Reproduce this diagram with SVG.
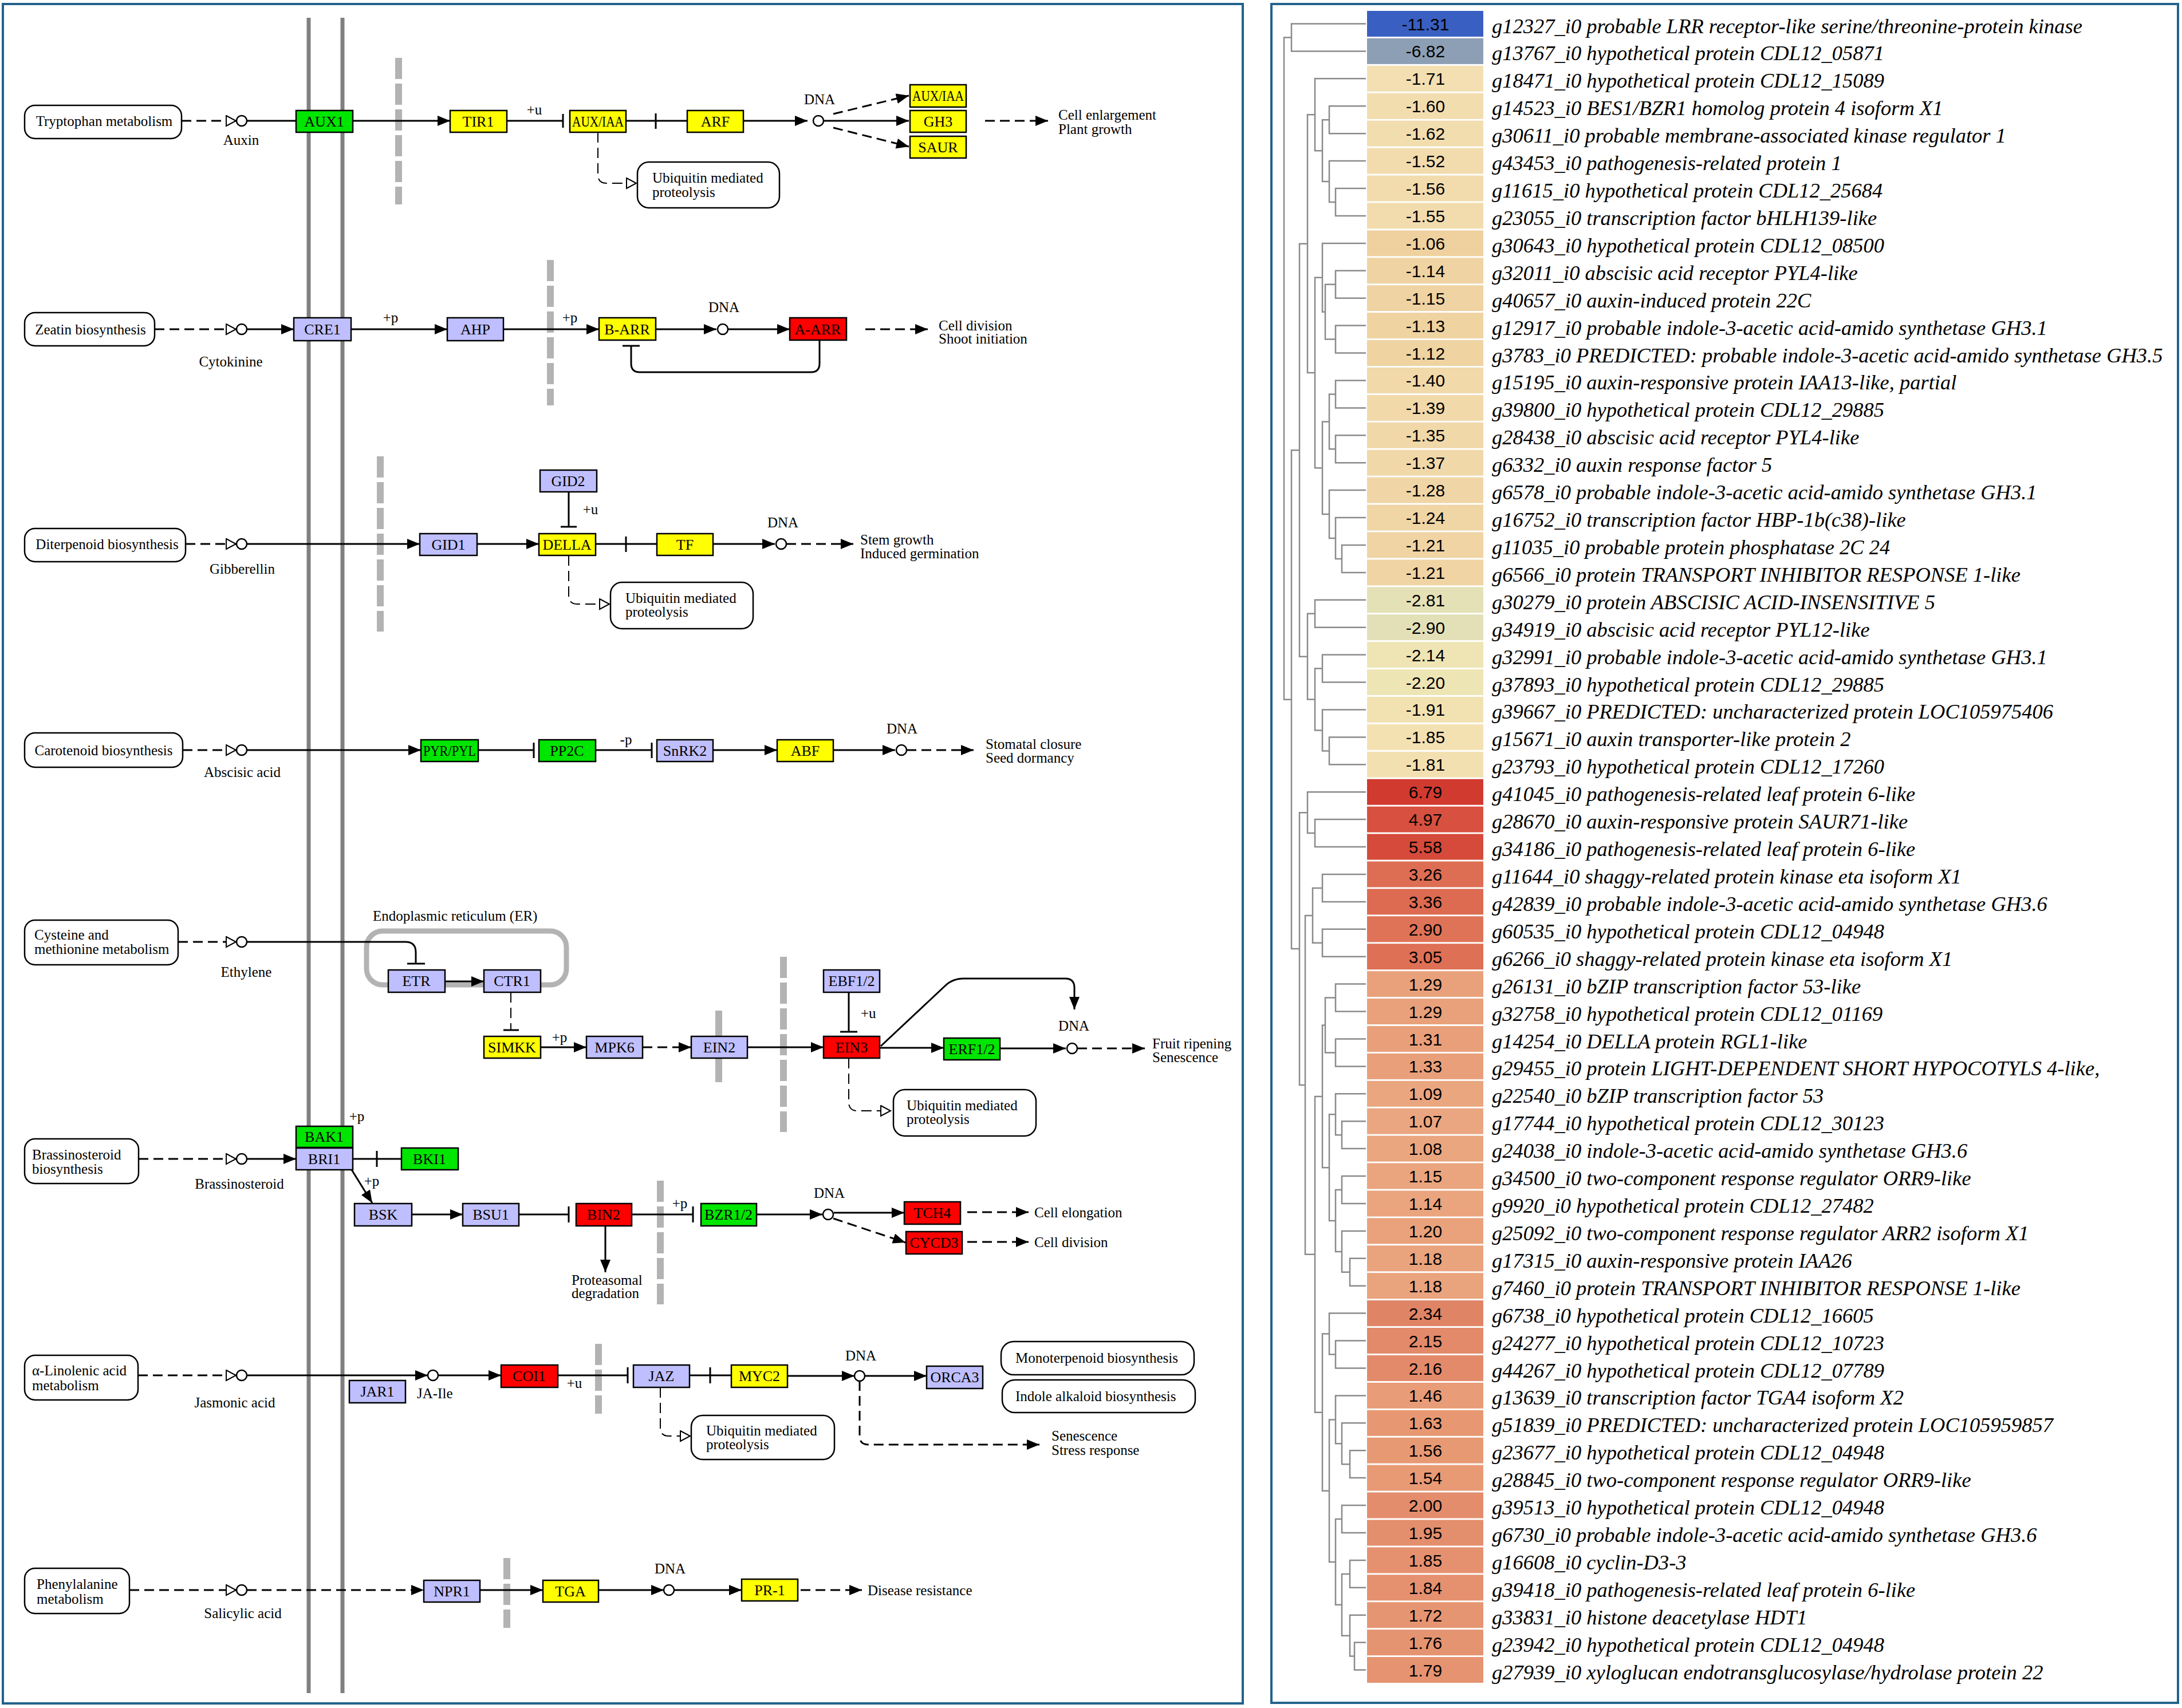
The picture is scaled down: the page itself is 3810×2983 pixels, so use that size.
<svg xmlns="http://www.w3.org/2000/svg" width="3810" height="2983" viewBox="0 0 3810 2983">
<style>
.t{font-family:"Liberation Serif",serif;font-size:25px;fill:#000}
.bt{font-family:"Liberation Serif",serif;font-size:26px;fill:#000;text-anchor:middle}
.m{text-anchor:middle}
.ln{stroke:#000;stroke-width:3;fill:none}
.dl{stroke:#000;stroke-width:3;fill:none;stroke-dasharray:17 9}
.ud{stroke:#000;stroke-width:2;fill:none;stroke-dasharray:18 9}
.box{stroke:#000;stroke-width:2.5}
.lav{fill:#bfbfff}.yel{fill:#ffff00}.red{fill:#ff0000}.grn{fill:#00e600}
.map{fill:#fff;stroke:#000;stroke-width:2.5}
.cpd{fill:#fff;stroke:#000;stroke-width:2.5}
.bar{stroke:#b3b3b3;stroke-width:12;stroke-dasharray:37 8;fill:none}
.mem{stroke:#808080;stroke-width:7}
.frame{fill:none;stroke:#22628c;stroke-width:4}
.dg{stroke:#8a8a8a;stroke-width:2.5;fill:none}
.cell{stroke:none}
.v{font-family:"Liberation Sans",Arial,sans-serif;font-size:30px;text-anchor:middle;fill:#000}
.g{font-family:"Liberation Serif",serif;font-style:italic;font-size:36.5px;fill:#000}
</style>
<defs>
<marker id="ah" markerUnits="userSpaceOnUse" markerWidth="24" markerHeight="20" refX="22" refY="9" orient="auto"><path d="M0,0 L22,9 L0,18 Z" fill="#000"/></marker>
<marker id="ot" markerUnits="userSpaceOnUse" markerWidth="22" markerHeight="22" refX="18" refY="10" orient="auto"><path d="M1,1 L18,10 L1,19 Z" fill="#fff" stroke="#000" stroke-width="2"/></marker>
</defs>
<rect x="0" y="0" width="3810" height="2983" fill="#fff"/>
<rect class="frame" x="5" y="7" width="2165" height="2968"/>
<rect class="frame" x="2220" y="7" width="1583" height="2967"/>

<g id="compartments">
<line class="mem" x1="539" y1="31" x2="539" y2="2957"/>
<line class="mem" x1="598" y1="31" x2="598" y2="2957"/>
<line class="bar" x1="696" y1="101" x2="696" y2="357"/>
<line class="bar" x1="961" y1="454" x2="961" y2="708"/>
<line class="bar" x1="664" y1="797" x2="664" y2="1103"/>
<line x1="1255" y1="1765" x2="1255" y2="1890" stroke="#b3b3b3" stroke-width="12"/>
<line class="bar" x1="1368" y1="1671" x2="1368" y2="1977"/>
<line class="bar" x1="1153" y1="2062" x2="1153" y2="2278"/>
<line class="bar" x1="1045" y1="2347" x2="1045" y2="2469"/>
<line class="bar" x1="885" y1="2721" x2="885" y2="2843"/>
<rect x="640" y="1626" width="349" height="94" rx="28" fill="none" stroke="#b3b3b3" stroke-width="9"/>
<text class="t" x="651" y="1608">Endoplasmic reticulum (ER)</text>
</g>

<g id="connectors">
<path class="dl" d="M317,211 L412,211" marker-end="url(#ot)"/>
<path class="ln" d="M431,211 L786,211" marker-end="url(#ah)"/>
<path class="ln" d="M885,211 L983,211 M983,199 L983,223"/>
<path class="ln" d="M1093,211 L1200,211 M1145,198 L1145,225"/>
<path class="ln" d="M1298,211 L1410,211" marker-end="url(#ah)"/>
<path class="dl" d="M1455,199 L1587,167" marker-end="url(#ah)"/>
<path class="ln" d="M1438,211 L1587,211" marker-end="url(#ah)"/>
<path class="dl" d="M1455,223 L1587,256" marker-end="url(#ah)"/>
<path class="dl" d="M1720,211 L1830,211" marker-end="url(#ah)"/>
<path class="ud" d="M1044,231 L1044,305 Q1044,320 1059,320 L1111,320" marker-end="url(#ot)"/>
<path class="dl" d="M270,575 L412,575" marker-end="url(#ot)"/>
<path class="ln" d="M431,575 L513,575" marker-end="url(#ah)"/>
<path class="ln" d="M613,575 L781,575" marker-end="url(#ah)"/>
<path class="ln" d="M879,575 L1046,575" marker-end="url(#ah)"/>
<path class="ln" d="M1145,575 L1251,575" marker-end="url(#ah)"/>
<path class="ln" d="M1271,575 L1379,575" marker-end="url(#ah)"/>
<path class="ln" d="M1431,594 L1431,635 Q1431,650 1416,650 L1117,650 Q1102,650 1102,635 L1102,604 M1087,604 L1117,604"/>
<path class="dl" d="M1511,575 L1620,575" marker-end="url(#ah)"/>
<path class="dl" d="M324,950 L412,950" marker-end="url(#ot)"/>
<path class="ln" d="M431,950 L733,950" marker-end="url(#ah)"/>
<path class="ln" d="M833,950 L941,950" marker-end="url(#ah)"/>
<path class="ln" d="M993,859 L993,920 M979,920 L1007,920"/>
<path class="ln" d="M1040,950 L1147,950 M1093,937 L1093,964"/>
<path class="ln" d="M1245,950 L1353,950" marker-end="url(#ah)"/>
<path class="dl" d="M1373,950 L1490,950" marker-end="url(#ah)"/>
<path class="ud" d="M993,970 L993,1040 Q993,1055 1008,1055 L1064,1055" marker-end="url(#ot)"/>
<path class="dl" d="M319,1310 L412,1310" marker-end="url(#ot)"/>
<path class="ln" d="M431,1310 L735,1310" marker-end="url(#ah)"/>
<path class="ln" d="M835,1310 L932,1310 M932,1297 L932,1324"/>
<path class="ln" d="M1040,1310 L1138,1310 M1138,1297 L1138,1324"/>
<path class="ln" d="M1245,1310 L1357,1310" marker-end="url(#ah)"/>
<path class="ln" d="M1455,1310 L1563,1310" marker-end="url(#ah)"/>
<path class="dl" d="M1583,1310 L1700,1310" marker-end="url(#ah)"/>
<path class="dl" d="M311,1645 L412,1645" marker-end="url(#ot)"/>
<path class="ln" d="M431,1645 L708,1645 Q726,1645 726,1663 L726,1683 M711,1683 L742,1683"/>
<path class="ln" d="M777,1714 L845,1714" marker-end="url(#ah)"/>
<path class="ud" d="M892,1733 L892,1799"/>
<path class="ln" d="M879,1799 L906,1799"/>
<path class="ln" d="M944,1829 L1024,1829" marker-end="url(#ah)"/>
<path class="dl" d="M1122,1829 L1207,1829" marker-end="url(#ah)"/>
<path class="ln" d="M1305,1829 L1438,1829" marker-end="url(#ah)"/>
<path class="ln" d="M1482,1733 L1482,1802 M1467,1802 L1497,1802"/>
<path class="ln" d="M1536,1830 L1648,1830" marker-end="url(#ah)"/>
<path class="ln" d="M1746,1831 L1861,1831" marker-end="url(#ah)"/>
<path class="ln" stroke-width="2.5" d="M1538,1827 L1650,1722 Q1663,1709 1683,1709 L1860,1709 Q1876,1709 1876,1725 L1876,1763" marker-end="url(#ah)"/>
<path class="dl" d="M1881,1831 L1999,1831" marker-end="url(#ah)"/>
<path class="ud" d="M1482,1848 L1482,1925 Q1482,1940 1497,1940 L1555,1940" marker-end="url(#ot)"/>
<path class="dl" d="M242,2024 L412,2024" marker-end="url(#ot)"/>
<path class="ln" d="M431,2024 L517,2024" marker-end="url(#ah)"/>
<path class="ln" d="M616,2024 L701,2024 M658,2010 L658,2038"/>
<path class="ln" stroke-width="2.5" d="M614,2043 L650,2101" marker-end="url(#ah)"/>
<path class="ln" d="M719,2121 L808,2121" marker-end="url(#ah)"/>
<path class="ln" d="M906,2121 L993,2121 M993,2107 L993,2135"/>
<path class="ln" d="M1057,2141 L1057,2222" marker-end="url(#ah)"/>
<path class="ln" d="M1103,2121 L1210,2121 M1210,2107 L1210,2135"/>
<path class="ln" d="M1321,2121 L1436,2121" marker-end="url(#ah)"/>
<path class="ln" d="M1456,2118 L1579,2118" marker-end="url(#ah)"/>
<path class="dl" d="M1455,2128 L1581,2170" marker-end="url(#ah)"/>
<path class="dl" d="M1689,2117 L1796,2117" marker-end="url(#ah)"/>
<path class="dl" d="M1689,2169 L1796,2169" marker-end="url(#ah)"/>
<path class="dl" d="M241,2402 L412,2402" marker-end="url(#ot)"/>
<path class="ln" d="M431,2402 L747,2402" marker-end="url(#ah)"/>
<path class="ln" d="M765,2402 L875,2402" marker-end="url(#ah)"/>
<path class="ln" d="M974,2402 L1096,2402 M1096,2388 L1096,2416"/>
<path class="ln" d="M1204,2402 L1277,2402 M1240,2388 L1240,2416"/>
<path class="ln" d="M1375,2403 L1492,2403" marker-end="url(#ah)"/>
<path class="ln" d="M1510,2403 L1618,2403" marker-end="url(#ah)"/>
<path class="dl" d="M1501,2412 L1501,2508 Q1501,2523 1516,2523 L1815,2523" marker-end="url(#ah)"/>
<path class="ud" d="M1153,2423 L1153,2494 Q1153,2508 1168,2508 L1205,2508" marker-end="url(#ot)"/>
<path class="dl" d="M226,2777 L412,2777" marker-end="url(#ot)"/>
<path class="dl" d="M431,2777 L740,2777" marker-end="url(#ah)"/>
<path class="ln" d="M838,2777 L948,2777" marker-end="url(#ah)"/>
<path class="ln" d="M1045,2777 L1159,2777" marker-end="url(#ah)"/>
<path class="ln" d="M1177,2777 L1295,2777" marker-end="url(#ah)"/>
<path class="dl" d="M1398,2777 L1505,2777" marker-end="url(#ah)"/>
</g>

<g id="map-trp"><rect class="map" x="43" y="184" width="274" height="58" rx="18"/><text class="t m" x="182" y="220">Tryptophan metabolism</text></g>
<g id="map-zeatin"><rect class="map" x="43" y="546" width="227" height="58" rx="18"/><text class="t m" x="158" y="584">Zeatin biosynthesis</text></g>
<g id="map-diterp"><rect class="map" x="43" y="923" width="281" height="58" rx="18"/><text class="t m" x="187" y="959">Diterpenoid biosynthesis</text></g>
<g id="map-carot"><rect class="map" x="43" y="1280" width="276" height="60" rx="18"/><text class="t m" x="181" y="1319">Carotenoid biosynthesis</text></g>
<g id="map-cys"><rect class="map" x="43" y="1607" width="268" height="78" rx="18"/><text class="t" x="60" y="1641">Cysteine and</text><text class="t" x="60" y="1666">methionine metabolism</text></g>
<g id="map-brass"><rect class="map" x="43" y="1989" width="199" height="78" rx="18"/><text class="t" x="56" y="2025">Brassinosteroid</text><text class="t" x="56" y="2050">biosynthesis</text></g>
<g id="map-linol"><rect class="map" x="43" y="2367" width="198" height="78" rx="18"/><text class="t" x="56" y="2402">α-Linolenic acid</text><text class="t" x="56" y="2428">metabolism</text></g>
<g id="map-phe"><rect class="map" x="43" y="2739" width="183" height="79" rx="18"/><text class="t" x="64" y="2775">Phenylalanine</text><text class="t" x="64" y="2801">metabolism</text></g>
<g id="map-ubq1"><rect class="map" x="1113" y="283" width="248" height="80" rx="20"/><text class="t" x="1139" y="319">Ubiquitin mediated</text><text class="t" x="1139" y="344">proteolysis</text></g>
<g id="map-ubq2"><rect class="map" x="1066" y="1017" width="249" height="81" rx="20"/><text class="t" x="1092" y="1053">Ubiquitin mediated</text><text class="t" x="1092" y="1077">proteolysis</text></g>
<g id="map-ubq3"><rect class="map" x="1560" y="1903" width="249" height="81" rx="20"/><text class="t" x="1583" y="1939">Ubiquitin mediated</text><text class="t" x="1583" y="1963">proteolysis</text></g>
<g id="map-ubq4"><rect class="map" x="1207" y="2472" width="250" height="77" rx="20"/><text class="t" x="1233" y="2507">Ubiquitin mediated</text><text class="t" x="1233" y="2531">proteolysis</text></g>
<g id="map-monoterp"><rect class="map" x="1748" y="2343" width="337" height="58" rx="22"/><text class="t" x="1773" y="2380">Monoterpenoid biosynthesis</text></g>
<g id="map-indole"><rect class="map" x="1750" y="2410" width="337" height="57" rx="22"/><text class="t" x="1773" y="2447">Indole alkaloid biosynthesis</text></g>

<g id="cpd-auxin"><circle class="cpd" cx="422" cy="211" r="9"/><text class="t m" x="421" y="253">Auxin</text></g>
<g id="cpd-cytokinin"><circle class="cpd" cx="422" cy="575" r="9"/><text class="t m" x="403" y="640">Cytokinine</text></g>
<g id="cpd-ga"><circle class="cpd" cx="422" cy="950" r="9"/><text class="t m" x="423" y="1002">Gibberellin</text></g>
<g id="cpd-aba"><circle class="cpd" cx="422" cy="1310" r="9"/><text class="t m" x="423" y="1357">Abscisic acid</text></g>
<g id="cpd-eth"><circle class="cpd" cx="422" cy="1645" r="9"/><text class="t m" x="430" y="1706">Ethylene</text></g>
<g id="cpd-br"><circle class="cpd" cx="422" cy="2024" r="9"/><text class="t m" x="418" y="2076">Brassinosteroid</text></g>
<g id="cpd-ja"><circle class="cpd" cx="422" cy="2402" r="9"/><text class="t m" x="410" y="2458">Jasmonic acid</text></g>
<g id="cpd-jaile"><circle class="cpd" cx="756" cy="2402" r="9"/><text class="t" x="728" y="2442">JA-Ile</text></g>
<g id="cpd-sa"><circle class="cpd" cx="422" cy="2777" r="9"/><text class="t m" x="424" y="2826">Salicylic acid</text></g>
<g id="dna1"><circle class="cpd" cx="1429" cy="211" r="9"/><text class="t m" x="1431" y="182">DNA</text></g>
<g id="dna2"><circle class="cpd" cx="1262" cy="575" r="9"/><text class="t m" x="1264" y="545">DNA</text></g>
<g id="dna3"><circle class="cpd" cx="1364" cy="950" r="9"/><text class="t m" x="1367" y="921">DNA</text></g>
<g id="dna4"><circle class="cpd" cx="1574" cy="1310" r="9"/><text class="t m" x="1575" y="1281">DNA</text></g>
<g id="dna5"><circle class="cpd" cx="1872" cy="1831" r="9"/><text class="t m" x="1875" y="1800">DNA</text></g>
<g id="dna6"><circle class="cpd" cx="1446" cy="2121" r="9"/><text class="t m" x="1448" y="2092">DNA</text></g>
<g id="dna7"><circle class="cpd" cx="1501" cy="2403" r="9"/><text class="t m" x="1503" y="2376">DNA</text></g>
<g id="dna8"><circle class="cpd" cx="1168" cy="2777" r="9"/><text class="t m" x="1170" y="2748">DNA</text></g>

<g id="n-aux1"><rect class="box grn" x="517" y="193" width="99" height="38"/><text class="bt" x="566" y="221">AUX1</text></g>
<g id="n-tir1"><rect class="box yel" x="786" y="193" width="99" height="38"/><text class="bt" x="835" y="221">TIR1</text></g>
<g id="n-auxiaa"><rect class="box yel" x="995" y="193" width="98" height="38"/><text class="bt" x="1044" y="221" textLength="90" lengthAdjust="spacingAndGlyphs">AUX/IAA</text></g>
<g id="n-arf"><rect class="box yel" x="1200" y="193" width="98" height="38"/><text class="bt" x="1249" y="221">ARF</text></g>
<g id="n-auxiaa2"><rect class="box yel" x="1589" y="148" width="98" height="39"/><text class="bt" x="1638" y="176" textLength="90" lengthAdjust="spacingAndGlyphs">AUX/IAA</text></g>
<g id="n-gh3"><rect class="box yel" x="1589" y="193" width="98" height="38"/><text class="bt" x="1638" y="221">GH3</text></g>
<g id="n-saur"><rect class="box yel" x="1589" y="238" width="98" height="38"/><text class="bt" x="1638" y="266">SAUR</text></g>
<g id="n-cre1"><rect class="box lav" x="513" y="555" width="100" height="40"/><text class="bt" x="563" y="584">CRE1</text></g>
<g id="n-ahp"><rect class="box lav" x="781" y="555" width="98" height="40"/><text class="bt" x="830" y="584">AHP</text></g>
<g id="n-barr"><rect class="box yel" x="1046" y="555" width="99" height="39"/><text class="bt" x="1095" y="584">B-ARR</text></g>
<g id="n-aarr"><rect class="box red" x="1379" y="555" width="99" height="39"/><text class="bt" x="1428" y="584">A-ARR</text></g>
<g id="n-gid1"><rect class="box lav" x="733" y="932" width="100" height="38"/><text class="bt" x="783" y="960">GID1</text></g>
<g id="n-gid2"><rect class="box lav" x="943" y="821" width="99" height="38"/><text class="bt" x="992" y="849">GID2</text></g>
<g id="n-della"><rect class="box yel" x="941" y="932" width="99" height="38"/><text class="bt" x="990" y="960">DELLA</text></g>
<g id="n-tf"><rect class="box yel" x="1147" y="932" width="98" height="38"/><text class="bt" x="1196" y="960">TF</text></g>
<g id="n-pyr"><rect class="box grn" x="735" y="1292" width="100" height="38"/><text class="bt" x="785" y="1320" textLength="92" lengthAdjust="spacingAndGlyphs">PYR/PYL</text></g>
<g id="n-pp2c"><rect class="box grn" x="941" y="1292" width="99" height="38"/><text class="bt" x="990" y="1320">PP2C</text></g>
<g id="n-snrk2"><rect class="box lav" x="1147" y="1292" width="98" height="38"/><text class="bt" x="1196" y="1320">SnRK2</text></g>
<g id="n-abf"><rect class="box yel" x="1357" y="1292" width="98" height="38"/><text class="bt" x="1406" y="1320">ABF</text></g>
<g id="n-etr"><rect class="box lav" x="678" y="1694" width="99" height="39"/><text class="bt" x="727" y="1722">ETR</text></g>
<g id="n-ctr1"><rect class="box lav" x="845" y="1694" width="99" height="39"/><text class="bt" x="894" y="1722">CTR1</text></g>
<g id="n-simkk"><rect class="box yel" x="845" y="1810" width="99" height="38"/><text class="bt" x="894" y="1838">SIMKK</text></g>
<g id="n-mpk6"><rect class="box lav" x="1024" y="1810" width="98" height="38"/><text class="bt" x="1073" y="1838">MPK6</text></g>
<g id="n-ein2"><rect class="box lav" x="1207" y="1810" width="98" height="38"/><text class="bt" x="1256" y="1838">EIN2</text></g>
<g id="n-ein3"><rect class="box red" x="1438" y="1810" width="98" height="38"/><text class="bt" x="1487" y="1838">EIN3</text></g>
<g id="n-ebf"><rect class="box lav" x="1438" y="1694" width="98" height="39"/><text class="bt" x="1487" y="1722">EBF1/2</text></g>
<g id="n-erf"><rect class="box grn" x="1648" y="1813" width="98" height="38"/><text class="bt" x="1697" y="1841">ERF1/2</text></g>
<g id="n-bak1"><rect class="box grn" x="517" y="1967" width="99" height="37"/><text class="bt" x="566" y="1994">BAK1</text></g>
<g id="n-bri1"><rect class="box lav" x="517" y="2005" width="99" height="38"/><text class="bt" x="566" y="2033">BRI1</text></g>
<g id="n-bki1"><rect class="box grn" x="701" y="2005" width="99" height="38"/><text class="bt" x="750" y="2033">BKI1</text></g>
<g id="n-bsk"><rect class="box lav" x="619" y="2102" width="100" height="39"/><text class="bt" x="669" y="2130">BSK</text></g>
<g id="n-bsu1"><rect class="box lav" x="808" y="2102" width="98" height="39"/><text class="bt" x="857" y="2130">BSU1</text></g>
<g id="n-bin2"><rect class="box red" x="1006" y="2102" width="97" height="39"/><text class="bt" x="1054" y="2130">BIN2</text></g>
<g id="n-bzr"><rect class="box grn" x="1224" y="2102" width="97" height="39"/><text class="bt" x="1272" y="2130">BZR1/2</text></g>
<g id="n-tch4"><rect class="box red" x="1579" y="2099" width="98" height="39"/><text class="bt" x="1628" y="2127">TCH4</text></g>
<g id="n-cycd3"><rect class="box red" x="1582" y="2151" width="98" height="39"/><text class="bt" x="1631" y="2179">CYCD3</text></g>
<g id="n-jar1"><rect class="box lav" x="610" y="2411" width="98" height="39"/><text class="bt" x="659" y="2439">JAR1</text></g>
<g id="n-coi1"><rect class="box red" x="875" y="2384" width="99" height="39"/><text class="bt" x="924" y="2412">COI1</text></g>
<g id="n-jaz"><rect class="box lav" x="1106" y="2384" width="98" height="39"/><text class="bt" x="1155" y="2412">JAZ</text></g>
<g id="n-myc2"><rect class="box yel" x="1277" y="2384" width="98" height="39"/><text class="bt" x="1326" y="2412">MYC2</text></g>
<g id="n-orca3"><rect class="box lav" x="1618" y="2386" width="98" height="39"/><text class="bt" x="1667" y="2414">ORCA3</text></g>
<g id="n-npr1"><rect class="box lav" x="740" y="2760" width="98" height="38"/><text class="bt" x="789" y="2788">NPR1</text></g>
<g id="n-tga"><rect class="box yel" x="948" y="2760" width="97" height="38"/><text class="bt" x="996" y="2788">TGA</text></g>
<g id="n-pr1"><rect class="box yel" x="1295" y="2758" width="98" height="38"/><text class="bt" x="1344" y="2786">PR-1</text></g>

<g id="labels">
<text class="t m" x="933" y="200">+u</text>
<text class="t m" x="682" y="563">+p</text>
<text class="t m" x="995" y="563">+p</text>
<text class="t m" x="1031" y="898">+u</text>
<text class="t m" x="1093" y="1300">-p</text>
<text class="t m" x="977" y="1820">+p</text>
<text class="t" x="1503" y="1778">+u</text>
<text class="t m" x="623" y="1958">+p</text>
<text class="t m" x="649" y="2071">+p</text>
<text class="t m" x="1187" y="2110">+p</text>
<text class="t m" x="1003" y="2424">+u</text>
<text class="t" x="1848" y="209">Cell enlargement</text>
<text class="t" x="1848" y="234">Plant growth</text>
<text class="t" x="1639" y="577">Cell division</text>
<text class="t" x="1639" y="600">Shoot initiation</text>
<text class="t" x="1502" y="951">Stem growth</text>
<text class="t" x="1502" y="975">Induced germination</text>
<text class="t" x="1721" y="1308">Stomatal closure</text>
<text class="t" x="1721" y="1332">Seed dormancy</text>
<text class="t" x="2012" y="1831">Fruit ripening</text>
<text class="t" x="2012" y="1855">Senescence</text>
<text class="t" x="998" y="2244">Proteasomal</text>
<text class="t" x="998" y="2267">degradation</text>
<text class="t" x="1806" y="2126">Cell elongation</text>
<text class="t" x="1806" y="2178">Cell division</text>
<text class="t" x="1836" y="2516">Senescence</text>
<text class="t" x="1836" y="2541">Stress response</text>
<text class="t" x="1515" y="2786">Disease resistance</text>
</g>

<g id="dendrogram" class="dg">
<path d="M2385,41.5 H2255 V89.4 H2385"/>
<path d="M2385,185.3 H2321 V233.2 H2385"/>
<path d="M2385,329 H2332 V376.9 H2385"/>
<path d="M2385,281.1 H2321 V353 H2332"/>
<path d="M2321,209.3 H2309 V317 H2321"/>
<path d="M2385,137.3 H2296 V263.2 H2309"/>
<path d="M2385,472.8 H2332 V520.7 H2385"/>
<path d="M2385,568.6 H2332 V616.5 H2385"/>
<path d="M2332,496.8 H2314 V592.6 H2332"/>
<path d="M2385,424.9 H2309 V544.7 H2314"/>
<path d="M2385,664.4 H2332 V712.4 H2385"/>
<path d="M2385,760.3 H2332 V808.2 H2385"/>
<path d="M2332,688.4 H2321 V784.3 H2332"/>
<path d="M2385,951.9 H2343 V999.9 H2385"/>
<path d="M2385,904 H2332 V975.9 H2343"/>
<path d="M2385,856.1 H2321 V940 H2332"/>
<path d="M2321,736.4 H2309 V898.1 H2321"/>
<path d="M2309,484.8 H2296 V817.3 H2309"/>
<path d="M2296,200.2 H2283 V651.1 H2296"/>
<path d="M2385,1047.8 H2296 V1095.7 H2385"/>
<path d="M2385,1143.6 H2309 V1191.5 H2385"/>
<path d="M2385,1287.4 H2321 V1335.3 H2385"/>
<path d="M2385,1239.4 H2309 V1311.4 H2321"/>
<path d="M2309,1167.6 H2296 V1275.4 H2309"/>
<path d="M2296,1071.8 H2283 V1221.5 H2296"/>
<path d="M2283,425.7 H2269 V1146.7 H2283"/>
<path d="M2385,1431.1 H2296 V1479 H2385"/>
<path d="M2385,1383.2 H2283 V1455.1 H2296"/>
<path d="M2385,1527 H2309 V1574.9 H2385"/>
<path d="M2385,1622.8 H2309 V1670.7 H2385"/>
<path d="M2309,1551 H2292 V1646.8 H2309"/>
<path d="M2385,1718.6 H2332 V1766.5 H2385"/>
<path d="M2385,1814.5 H2332 V1862.4 H2385"/>
<path d="M2332,1742.6 H2314 V1838.5 H2332"/>
<path d="M2385,1958.2 H2343 V2006.1 H2385"/>
<path d="M2385,1910.3 H2332 V1982.2 H2343"/>
<path d="M2385,2054 H2343 V2102 H2385"/>
<path d="M2385,2197.8 H2357 V2245.7 H2385"/>
<path d="M2385,2149.9 H2343 V2221.8 H2357"/>
<path d="M2343,2078 H2332 V2185.9 H2343"/>
<path d="M2332,1946.3 H2321 V2132 H2332"/>
<path d="M2314,1790.6 H2309 V2039.2 H2321"/>
<path d="M2385,2341.5 H2332 V2389.5 H2385"/>
<path d="M2385,2293.6 H2321 V2365.5 H2332"/>
<path d="M2385,2533.2 H2357 V2581.1 H2385"/>
<path d="M2385,2485.3 H2343 V2557.2 H2357"/>
<path d="M2385,2437.4 H2332 V2521.3 H2343"/>
<path d="M2385,2629 H2343 V2677 H2385"/>
<path d="M2385,2724.9 H2357 V2772.8 H2385"/>
<path d="M2385,2868.6 H2365 V2916.5 H2385"/>
<path d="M2385,2820.7 H2357 V2892.6 H2365"/>
<path d="M2357,2748.9 H2343 V2856.7 H2357"/>
<path d="M2343,2653 H2332 V2802.8 H2343"/>
<path d="M2332,2479.4 H2321 V2727.9 H2332"/>
<path d="M2321,2329.6 H2309 V2603.7 H2321"/>
<path d="M2309,1914.9 H2296 V2466.7 H2309"/>
<path d="M2292,1598.9 H2279 V2190.8 H2296"/>
<path d="M2283,1419.2 H2269 V1894.9 H2279"/>
<path d="M2269,786.2 H2255 V1657.1 H2269"/>
<path d="M2255,65.5 H2242 V1221.7 H2255"/>
</g>

<g id="heatmap">
<g id="r1" transform="translate(0,19)"><rect class="cell" x="2387" y="0" width="203" height="45" fill="#3a5fc2"/><text class="v" x="2489" y="33.5">-11.31</text><text class="g" x="2605" y="38.5">g12327_i0 probable LRR receptor-like serine/threonine-protein kinase</text></g>
<g id="r2" transform="translate(0,66.9)"><rect class="cell" x="2387" y="0" width="203" height="45" fill="#8d9fb4"/><text class="v" x="2489" y="33.5">-6.82</text><text class="g" x="2605" y="38.5">g13767_i0 hypothetical protein CDL12_05871</text></g>
<g id="r3" transform="translate(0,114.8)"><rect class="cell" x="2387" y="0" width="203" height="45" fill="#f3dfb1"/><text class="v" x="2489" y="33.5">-1.71</text><text class="g" x="2605" y="38.5">g18471_i0 hypothetical protein CDL12_15089</text></g>
<g id="r4" transform="translate(0,162.8)"><rect class="cell" x="2387" y="0" width="203" height="45" fill="#f2ddaf"/><text class="v" x="2489" y="33.5">-1.60</text><text class="g" x="2605" y="38.5">g14523_i0 BES1/BZR1 homolog protein 4 isoform X1</text></g>
<g id="r5" transform="translate(0,210.7)"><rect class="cell" x="2387" y="0" width="203" height="45" fill="#f2ddaf"/><text class="v" x="2489" y="33.5">-1.62</text><text class="g" x="2605" y="38.5">g30611_i0 probable membrane-associated kinase regulator 1</text></g>
<g id="r6" transform="translate(0,258.6)"><rect class="cell" x="2387" y="0" width="203" height="45" fill="#f2dcad"/><text class="v" x="2489" y="33.5">-1.52</text><text class="g" x="2605" y="38.5">g43453_i0 pathogenesis-related protein 1</text></g>
<g id="r7" transform="translate(0,306.5)"><rect class="cell" x="2387" y="0" width="203" height="45" fill="#f2dcae"/><text class="v" x="2489" y="33.5">-1.56</text><text class="g" x="2605" y="38.5">g11615_i0 hypothetical protein CDL12_25684</text></g>
<g id="r8" transform="translate(0,354.4)"><rect class="cell" x="2387" y="0" width="203" height="45" fill="#f2dcae"/><text class="v" x="2489" y="33.5">-1.55</text><text class="g" x="2605" y="38.5">g23055_i0 transcription factor bHLH139-like</text></g>
<g id="r9" transform="translate(0,402.4)"><rect class="cell" x="2387" y="0" width="203" height="45" fill="#efd19f"/><text class="v" x="2489" y="33.5">-1.06</text><text class="g" x="2605" y="38.5">g30643_i0 hypothetical protein CDL12_08500</text></g>
<g id="r10" transform="translate(0,450.3)"><rect class="cell" x="2387" y="0" width="203" height="45" fill="#efd3a2"/><text class="v" x="2489" y="33.5">-1.14</text><text class="g" x="2605" y="38.5">g32011_i0 abscisic acid receptor PYL4-like</text></g>
<g id="r11" transform="translate(0,498.2)"><rect class="cell" x="2387" y="0" width="203" height="45" fill="#efd3a2"/><text class="v" x="2489" y="33.5">-1.15</text><text class="g" x="2605" y="38.5">g40657_i0 auxin-induced protein 22C</text></g>
<g id="r12" transform="translate(0,546.1)"><rect class="cell" x="2387" y="0" width="203" height="45" fill="#efd3a1"/><text class="v" x="2489" y="33.5">-1.13</text><text class="g" x="2605" y="38.5">g12917_i0 probable indole-3-acetic acid-amido synthetase GH3.1</text></g>
<g id="r13" transform="translate(0,594)"><rect class="cell" x="2387" y="0" width="203" height="45" fill="#efd3a1"/><text class="v" x="2489" y="33.5">-1.12</text><text class="g" x="2605" y="38.5">g3783_i0 PREDICTED: probable indole-3-acetic acid-amido synthetase GH3.5</text></g>
<g id="r14" transform="translate(0,641.9)"><rect class="cell" x="2387" y="0" width="203" height="45" fill="#f1d9aa"/><text class="v" x="2489" y="33.5">-1.40</text><text class="g" x="2605" y="38.5">g15195_i0 auxin-responsive protein IAA13-like, partial</text></g>
<g id="r15" transform="translate(0,689.9)"><rect class="cell" x="2387" y="0" width="203" height="45" fill="#f1d9aa"/><text class="v" x="2489" y="33.5">-1.39</text><text class="g" x="2605" y="38.5">g39800_i0 hypothetical protein CDL12_29885</text></g>
<g id="r16" transform="translate(0,737.8)"><rect class="cell" x="2387" y="0" width="203" height="45" fill="#f1d8a9"/><text class="v" x="2489" y="33.5">-1.35</text><text class="g" x="2605" y="38.5">g28438_i0 abscisic acid receptor PYL4-like</text></g>
<g id="r17" transform="translate(0,785.7)"><rect class="cell" x="2387" y="0" width="203" height="45" fill="#f1d8a9"/><text class="v" x="2489" y="33.5">-1.37</text><text class="g" x="2605" y="38.5">g6332_i0 auxin response factor 5</text></g>
<g id="r18" transform="translate(0,833.6)"><rect class="cell" x="2387" y="0" width="203" height="45" fill="#f0d6a6"/><text class="v" x="2489" y="33.5">-1.28</text><text class="g" x="2605" y="38.5">g6578_i0 probable indole-3-acetic acid-amido synthetase GH3.1</text></g>
<g id="r19" transform="translate(0,881.5)"><rect class="cell" x="2387" y="0" width="203" height="45" fill="#f0d5a5"/><text class="v" x="2489" y="33.5">-1.24</text><text class="g" x="2605" y="38.5">g16752_i0 transcription factor HBP-1b(c38)-like</text></g>
<g id="r20" transform="translate(0,929.4)"><rect class="cell" x="2387" y="0" width="203" height="45" fill="#f0d4a4"/><text class="v" x="2489" y="33.5">-1.21</text><text class="g" x="2605" y="38.5">g11035_i0 probable protein phosphatase 2C 24</text></g>
<g id="r21" transform="translate(0,977.4)"><rect class="cell" x="2387" y="0" width="203" height="45" fill="#f0d4a4"/><text class="v" x="2489" y="33.5">-1.21</text><text class="g" x="2605" y="38.5">g6566_i0 protein TRANSPORT INHIBITOR RESPONSE 1-like</text></g>
<g id="r22" transform="translate(0,1025.3)"><rect class="cell" x="2387" y="0" width="203" height="45" fill="#e5e1b7"/><text class="v" x="2489" y="33.5">-2.81</text><text class="g" x="2605" y="38.5">g30279_i0 protein ABSCISIC ACID-INSENSITIVE 5</text></g>
<g id="r23" transform="translate(0,1073.2)"><rect class="cell" x="2387" y="0" width="203" height="45" fill="#e3e0b8"/><text class="v" x="2489" y="33.5">-2.90</text><text class="g" x="2605" y="38.5">g34919_i0 abscisic acid receptor PYL12-like</text></g>
<g id="r24" transform="translate(0,1121.1)"><rect class="cell" x="2387" y="0" width="203" height="45" fill="#efe5b4"/><text class="v" x="2489" y="33.5">-2.14</text><text class="g" x="2605" y="38.5">g32991_i0 probable indole-3-acetic acid-amido synthetase GH3.1</text></g>
<g id="r25" transform="translate(0,1169)"><rect class="cell" x="2387" y="0" width="203" height="45" fill="#eee5b5"/><text class="v" x="2489" y="33.5">-2.20</text><text class="g" x="2605" y="38.5">g37893_i0 hypothetical protein CDL12_29885</text></g>
<g id="r26" transform="translate(0,1216.9)"><rect class="cell" x="2387" y="0" width="203" height="45" fill="#f2e2b2"/><text class="v" x="2489" y="33.5">-1.91</text><text class="g" x="2605" y="38.5">g39667_i0 PREDICTED: uncharacterized protein LOC105975406</text></g>
<g id="r27" transform="translate(0,1264.9)"><rect class="cell" x="2387" y="0" width="203" height="45" fill="#f3e1b2"/><text class="v" x="2489" y="33.5">-1.85</text><text class="g" x="2605" y="38.5">g15671_i0 auxin transporter-like protein 2</text></g>
<g id="r28" transform="translate(0,1312.8)"><rect class="cell" x="2387" y="0" width="203" height="45" fill="#f3e0b1"/><text class="v" x="2489" y="33.5">-1.81</text><text class="g" x="2605" y="38.5">g23793_i0 hypothetical protein CDL12_17260</text></g>
<g id="r29" transform="translate(0,1360.7)"><rect class="cell" x="2387" y="0" width="203" height="45" fill="#d13a2f"/><text class="v" x="2489" y="33.5">6.79</text><text class="g" x="2605" y="38.5">g41045_i0 pathogenesis-related leaf protein 6-like</text></g>
<g id="r30" transform="translate(0,1408.6)"><rect class="cell" x="2387" y="0" width="203" height="45" fill="#d8503f"/><text class="v" x="2489" y="33.5">4.97</text><text class="g" x="2605" y="38.5">g28670_i0 auxin-responsive protein SAUR71-like</text></g>
<g id="r31" transform="translate(0,1456.5)"><rect class="cell" x="2387" y="0" width="203" height="45" fill="#d54a3a"/><text class="v" x="2489" y="33.5">5.58</text><text class="g" x="2605" y="38.5">g34186_i0 pathogenesis-related leaf protein 6-like</text></g>
<g id="r32" transform="translate(0,1504.5)"><rect class="cell" x="2387" y="0" width="203" height="45" fill="#dd6d53"/><text class="v" x="2489" y="33.5">3.26</text><text class="g" x="2605" y="38.5">g11644_i0 shaggy-related protein kinase eta isoform X1</text></g>
<g id="r33" transform="translate(0,1552.4)"><rect class="cell" x="2387" y="0" width="203" height="45" fill="#dc6b51"/><text class="v" x="2489" y="33.5">3.36</text><text class="g" x="2605" y="38.5">g42839_i0 probable indole-3-acetic acid-amido synthetase GH3.6</text></g>
<g id="r34" transform="translate(0,1600.3)"><rect class="cell" x="2387" y="0" width="203" height="45" fill="#de7358"/><text class="v" x="2489" y="33.5">2.90</text><text class="g" x="2605" y="38.5">g60535_i0 hypothetical protein CDL12_04948</text></g>
<g id="r35" transform="translate(0,1648.2)"><rect class="cell" x="2387" y="0" width="203" height="45" fill="#de7056"/><text class="v" x="2489" y="33.5">3.05</text><text class="g" x="2605" y="38.5">g6266_i0 shaggy-related protein kinase eta isoform X1</text></g>
<g id="r36" transform="translate(0,1696.1)"><rect class="cell" x="2387" y="0" width="203" height="45" fill="#e9a17b"/><text class="v" x="2489" y="33.5">1.29</text><text class="g" x="2605" y="38.5">g26131_i0 bZIP transcription factor 53-like</text></g>
<g id="r37" transform="translate(0,1744)"><rect class="cell" x="2387" y="0" width="203" height="45" fill="#e9a17b"/><text class="v" x="2489" y="33.5">1.29</text><text class="g" x="2605" y="38.5">g32758_i0 hypothetical protein CDL12_01169</text></g>
<g id="r38" transform="translate(0,1792)"><rect class="cell" x="2387" y="0" width="203" height="45" fill="#e9a07a"/><text class="v" x="2489" y="33.5">1.31</text><text class="g" x="2605" y="38.5">g14254_i0 DELLA protein RGL1-like</text></g>
<g id="r39" transform="translate(0,1839.9)"><rect class="cell" x="2387" y="0" width="203" height="45" fill="#e9a07a"/><text class="v" x="2489" y="33.5">1.33</text><text class="g" x="2605" y="38.5">g29455_i0 protein LIGHT-DEPENDENT SHORT HYPOCOTYLS 4-like,</text></g>
<g id="r40" transform="translate(0,1887.8)"><rect class="cell" x="2387" y="0" width="203" height="45" fill="#eaa67f"/><text class="v" x="2489" y="33.5">1.09</text><text class="g" x="2605" y="38.5">g22540_i0 bZIP transcription factor 53</text></g>
<g id="r41" transform="translate(0,1935.7)"><rect class="cell" x="2387" y="0" width="203" height="45" fill="#eaa680"/><text class="v" x="2489" y="33.5">1.07</text><text class="g" x="2605" y="38.5">g17744_i0 hypothetical protein CDL12_30123</text></g>
<g id="r42" transform="translate(0,1983.6)"><rect class="cell" x="2387" y="0" width="203" height="45" fill="#eaa67f"/><text class="v" x="2489" y="33.5">1.08</text><text class="g" x="2605" y="38.5">g24038_i0 indole-3-acetic acid-amido synthetase GH3.6</text></g>
<g id="r43" transform="translate(0,2031.5)"><rect class="cell" x="2387" y="0" width="203" height="45" fill="#eaa47e"/><text class="v" x="2489" y="33.5">1.15</text><text class="g" x="2605" y="38.5">g34500_i0 two-component response regulator ORR9-like</text></g>
<g id="r44" transform="translate(0,2079.5)"><rect class="cell" x="2387" y="0" width="203" height="45" fill="#eaa47e"/><text class="v" x="2489" y="33.5">1.14</text><text class="g" x="2605" y="38.5">g9920_i0 hypothetical protein CDL12_27482</text></g>
<g id="r45" transform="translate(0,2127.4)"><rect class="cell" x="2387" y="0" width="203" height="45" fill="#e9a27c"/><text class="v" x="2489" y="33.5">1.20</text><text class="g" x="2605" y="38.5">g25092_i0 two-component response regulator ARR2 isoform X1</text></g>
<g id="r46" transform="translate(0,2175.3)"><rect class="cell" x="2387" y="0" width="203" height="45" fill="#e9a37d"/><text class="v" x="2489" y="33.5">1.18</text><text class="g" x="2605" y="38.5">g17315_i0 auxin-responsive protein IAA26</text></g>
<g id="r47" transform="translate(0,2223.2)"><rect class="cell" x="2387" y="0" width="203" height="45" fill="#e9a37d"/><text class="v" x="2489" y="33.5">1.18</text><text class="g" x="2605" y="38.5">g7460_i0 protein TRANSPORT INHIBITOR RESPONSE 1-like</text></g>
<g id="r48" transform="translate(0,2271.1)"><rect class="cell" x="2387" y="0" width="203" height="45" fill="#e08466"/><text class="v" x="2489" y="33.5">2.34</text><text class="g" x="2605" y="38.5">g6738_i0 hypothetical protein CDL12_16605</text></g>
<g id="r49" transform="translate(0,2319)"><rect class="cell" x="2387" y="0" width="203" height="45" fill="#e28a6a"/><text class="v" x="2489" y="33.5">2.15</text><text class="g" x="2605" y="38.5">g24277_i0 hypothetical protein CDL12_10723</text></g>
<g id="r50" transform="translate(0,2367)"><rect class="cell" x="2387" y="0" width="203" height="45" fill="#e28a6a"/><text class="v" x="2489" y="33.5">2.16</text><text class="g" x="2605" y="38.5">g44267_i0 hypothetical protein CDL12_07789</text></g>
<g id="r51" transform="translate(0,2414.9)"><rect class="cell" x="2387" y="0" width="203" height="45" fill="#e89c77"/><text class="v" x="2489" y="33.5">1.46</text><text class="g" x="2605" y="38.5">g13639_i0 transcription factor TGA4 isoform X2</text></g>
<g id="r52" transform="translate(0,2462.8)"><rect class="cell" x="2387" y="0" width="203" height="45" fill="#e79873"/><text class="v" x="2489" y="33.5">1.63</text><text class="g" x="2605" y="38.5">g51839_i0 PREDICTED: uncharacterized protein LOC105959857</text></g>
<g id="r53" transform="translate(0,2510.7)"><rect class="cell" x="2387" y="0" width="203" height="45" fill="#e79974"/><text class="v" x="2489" y="33.5">1.56</text><text class="g" x="2605" y="38.5">g23677_i0 hypothetical protein CDL12_04948</text></g>
<g id="r54" transform="translate(0,2558.6)"><rect class="cell" x="2387" y="0" width="203" height="45" fill="#e89a75"/><text class="v" x="2489" y="33.5">1.54</text><text class="g" x="2605" y="38.5">g28845_i0 two-component response regulator ORR9-like</text></g>
<g id="r55" transform="translate(0,2606.5)"><rect class="cell" x="2387" y="0" width="203" height="45" fill="#e38d6c"/><text class="v" x="2489" y="33.5">2.00</text><text class="g" x="2605" y="38.5">g39513_i0 hypothetical protein CDL12_04948</text></g>
<g id="r56" transform="translate(0,2654.5)"><rect class="cell" x="2387" y="0" width="203" height="45" fill="#e38e6d"/><text class="v" x="2489" y="33.5">1.95</text><text class="g" x="2605" y="38.5">g6730_i0 probable indole-3-acetic acid-amido synthetase GH3.6</text></g>
<g id="r57" transform="translate(0,2702.4)"><rect class="cell" x="2387" y="0" width="203" height="45" fill="#e59170"/><text class="v" x="2489" y="33.5">1.85</text><text class="g" x="2605" y="38.5">g16608_i0 cyclin-D3-3</text></g>
<g id="r58" transform="translate(0,2750.3)"><rect class="cell" x="2387" y="0" width="203" height="45" fill="#e59170"/><text class="v" x="2489" y="33.5">1.84</text><text class="g" x="2605" y="38.5">g39418_i0 pathogenesis-related leaf protein 6-like</text></g>
<g id="r59" transform="translate(0,2798.2)"><rect class="cell" x="2387" y="0" width="203" height="45" fill="#e69572"/><text class="v" x="2489" y="33.5">1.72</text><text class="g" x="2605" y="38.5">g33831_i0 histone deacetylase HDT1</text></g>
<g id="r60" transform="translate(0,2846.1)"><rect class="cell" x="2387" y="0" width="203" height="45" fill="#e59471"/><text class="v" x="2489" y="33.5">1.76</text><text class="g" x="2605" y="38.5">g23942_i0 hypothetical protein CDL12_04948</text></g>
<g id="r61" transform="translate(0,2894)"><rect class="cell" x="2387" y="0" width="203" height="45" fill="#e59370"/><text class="v" x="2489" y="33.5">1.79</text><text class="g" x="2605" y="38.5">g27939_i0 xyloglucan endotransglucosylase/hydrolase protein 22</text></g>
</g>
</svg>
